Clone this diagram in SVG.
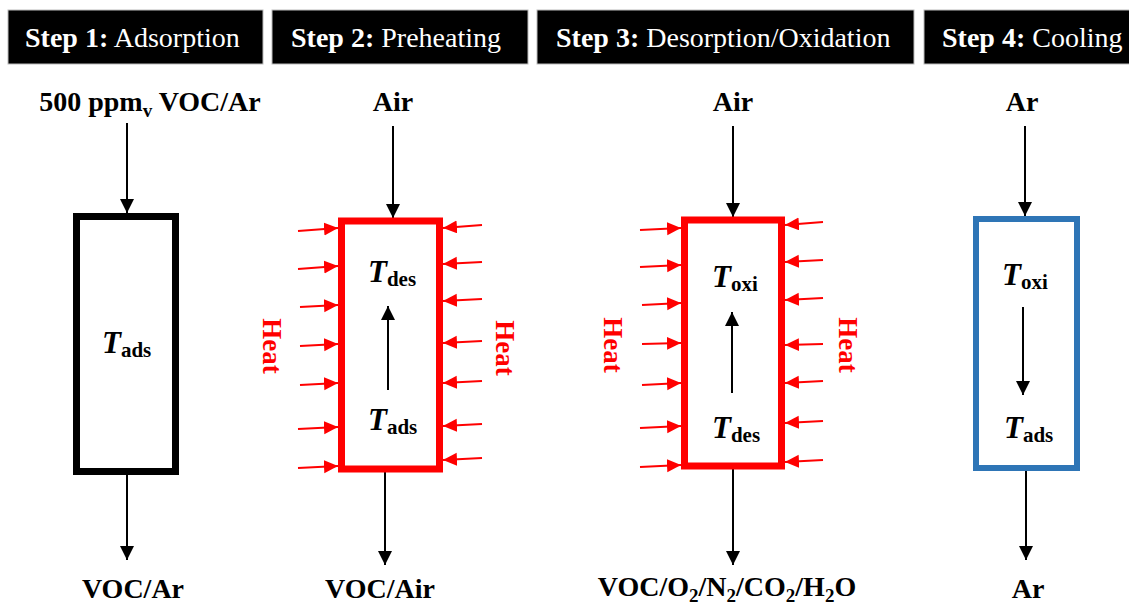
<svg xmlns="http://www.w3.org/2000/svg" width="1129" height="606" viewBox="0 0 1129 606">
<style>
.hdr{fill:#000;stroke:#bbb;stroke-width:1}
.ht{font-family:"Liberation Serif",serif;font-size:28px;fill:#fff}
.b{font-weight:bold}
.lbl{font-family:"Liberation Serif",serif;font-size:28px;font-weight:bold;fill:#000;text-anchor:middle}
.sub{font-size:19px}
.tv{font-family:"Liberation Serif",serif;font-size:31px;font-weight:bold;font-style:italic;fill:#000}
.ts{font-size:21px;font-style:normal}
.heat{font-family:"Liberation Serif",serif;font-size:27px;font-weight:bold;fill:#ff0000;text-anchor:middle}
.blk{stroke:#000;stroke-width:2;fill:none}
.red{stroke:#ff0000;stroke-width:2;fill:none}
</style>
<defs>
<marker id="ah" markerUnits="userSpaceOnUse" markerWidth="15" markerHeight="15" refX="14" refY="7" orient="auto"><path d="M0,0 L14,7 L0,14 z" fill="#000"/></marker>
<marker id="rh" markerUnits="userSpaceOnUse" markerWidth="15" markerHeight="15" refX="14" refY="6.5" orient="auto"><path d="M0,0 L14,6.5 L0,13 z" fill="#ff0000"/></marker>
</defs>
<rect width="1129" height="606" fill="#fff"/>
<g id="headers">
<rect class="hdr" x="8" y="10" width="255" height="54"/>
<rect class="hdr" x="272" y="10" width="256" height="54"/>
<rect class="hdr" x="537" y="10" width="377" height="54"/>
<rect class="hdr" x="924" y="10" width="210" height="54"/>
<text class="ht" x="25" y="47"><tspan class="b">Step 1:</tspan> Adsorption</text>
<text class="ht" x="291" y="47"><tspan class="b">Step 2:</tspan> Preheating</text>
<text class="ht" x="556" y="47"><tspan class="b">Step 3:</tspan> Desorption/Oxidation</text>
<text class="ht" x="942" y="47"><tspan class="b">Step 4:</tspan> Cooling</text>
</g>
<g id="connectors">
<line class="blk" x1="127" y1="123" x2="127" y2="213" marker-end="url(#ah)"/>
<line class="blk" x1="127" y1="475" x2="127" y2="560" marker-end="url(#ah)"/>
<line class="blk" x1="393" y1="126" x2="393" y2="218" marker-end="url(#ah)"/>
<line class="blk" x1="385" y1="472" x2="385" y2="565" marker-end="url(#ah)"/>
<line class="blk" x1="733" y1="126" x2="733" y2="217" marker-end="url(#ah)"/>
<line class="blk" x1="733" y1="469" x2="733" y2="565" marker-end="url(#ah)"/>
<line class="blk" x1="1025" y1="126" x2="1025" y2="216" marker-end="url(#ah)"/>
<line class="blk" x1="1026" y1="471" x2="1026" y2="560" marker-end="url(#ah)"/>
<line class="blk" x1="388" y1="390" x2="388" y2="306" marker-end="url(#ah)"/>
<line class="blk" x1="732" y1="393" x2="732" y2="312" marker-end="url(#ah)"/>
<line class="blk" x1="1023" y1="307" x2="1023" y2="395" marker-end="url(#ah)"/>
<g id="heat-arrows-2">
<line class="red" x1="298" y1="231" x2="338" y2="228" marker-end="url(#rh)"/>
<line class="red" x1="298" y1="269" x2="338" y2="266" marker-end="url(#rh)"/>
<line class="red" x1="300" y1="307" x2="338" y2="305" marker-end="url(#rh)"/>
<line class="red" x1="300" y1="346" x2="338" y2="344" marker-end="url(#rh)"/>
<line class="red" x1="300" y1="385" x2="338" y2="383" marker-end="url(#rh)"/>
<line class="red" x1="298" y1="429" x2="338" y2="427" marker-end="url(#rh)"/>
<line class="red" x1="298" y1="468" x2="338" y2="466" marker-end="url(#rh)"/>
<line class="red" x1="482" y1="225" x2="443" y2="228" marker-end="url(#rh)"/>
<line class="red" x1="482" y1="262" x2="443" y2="264" marker-end="url(#rh)"/>
<line class="red" x1="482" y1="299" x2="443" y2="301" marker-end="url(#rh)"/>
<line class="red" x1="482" y1="341" x2="443" y2="343" marker-end="url(#rh)"/>
<line class="red" x1="482" y1="381" x2="443" y2="383" marker-end="url(#rh)"/>
<line class="red" x1="482" y1="424" x2="443" y2="426" marker-end="url(#rh)"/>
<line class="red" x1="482" y1="458" x2="443" y2="460" marker-end="url(#rh)"/>
</g>
<g id="heat-arrows-3">
<line class="red" x1="640" y1="230" x2="681" y2="228" marker-end="url(#rh)"/>
<line class="red" x1="640" y1="267" x2="681" y2="265" marker-end="url(#rh)"/>
<line class="red" x1="642" y1="305" x2="681" y2="303" marker-end="url(#rh)"/>
<line class="red" x1="642" y1="344" x2="681" y2="343" marker-end="url(#rh)"/>
<line class="red" x1="642" y1="385" x2="681" y2="383" marker-end="url(#rh)"/>
<line class="red" x1="640" y1="428" x2="681" y2="426" marker-end="url(#rh)"/>
<line class="red" x1="640" y1="467" x2="681" y2="465" marker-end="url(#rh)"/>
<line class="red" x1="823" y1="222" x2="785" y2="225" marker-end="url(#rh)"/>
<line class="red" x1="823" y1="260" x2="785" y2="262" marker-end="url(#rh)"/>
<line class="red" x1="823" y1="298" x2="785" y2="300" marker-end="url(#rh)"/>
<line class="red" x1="823" y1="344" x2="785" y2="345" marker-end="url(#rh)"/>
<line class="red" x1="823" y1="381" x2="785" y2="383" marker-end="url(#rh)"/>
<line class="red" x1="823" y1="421" x2="785" y2="423" marker-end="url(#rh)"/>
<line class="red" x1="823" y1="460" x2="785" y2="462" marker-end="url(#rh)"/>
</g>
</g>
<g id="node-step1">
<text class="lbl" x="150" y="111">500 ppm<tspan class="sub" dy="6">v</tspan><tspan dy="-6"> VOC/Ar</tspan></text>
<rect x="76.5" y="216.5" width="99" height="255" fill="#fff" stroke="#000" stroke-width="7"/>
<text class="tv" x="102" y="353">T<tspan class="ts" dy="4">ads</tspan></text>
<text class="lbl" x="133" y="598">VOC/Ar</text>
</g>
<g id="node-step2">
<text class="lbl" x="393" y="111">Air</text>
<rect x="341.5" y="221" width="98" height="248" fill="none" stroke="#ff0000" stroke-width="7"/>
<text class="tv" x="368" y="282">T<tspan class="ts" dy="4">des</tspan></text>
<text class="tv" x="368" y="430">T<tspan class="ts" dy="4">ads</tspan></text>
<text class="heat" transform="translate(272,346) rotate(90)" x="0" y="9">Heat</text>
<text class="heat" transform="translate(505,348) rotate(90)" x="0" y="9">Heat</text>
<text class="lbl" x="380" y="598">VOC/Air</text>
</g>
<g id="node-step3">
<text class="lbl" x="733" y="111">Air</text>
<rect x="684.5" y="220" width="97" height="246" fill="none" stroke="#ff0000" stroke-width="7"/>
<text class="tv" x="712" y="287">T<tspan class="ts" dy="4">oxi</tspan></text>
<text class="tv" x="712" y="438">T<tspan class="ts" dy="4">des</tspan></text>
<text class="heat" transform="translate(613,345) rotate(90)" x="0" y="9">Heat</text>
<text class="heat" transform="translate(848,345) rotate(90)" x="0" y="9">Heat</text>
<text class="lbl" x="727" y="596">VOC/O<tspan class="sub" dy="6">2</tspan><tspan dy="-6">/N</tspan><tspan class="sub" dy="6">2</tspan><tspan dy="-6">/CO</tspan><tspan class="sub" dy="6">2</tspan><tspan dy="-6">/H</tspan><tspan class="sub" dy="6">2</tspan><tspan dy="-6">O</tspan></text>
</g>
<g id="node-step4">
<text class="lbl" x="1022" y="111">Ar</text>
<rect x="976" y="219" width="101" height="249" fill="none" stroke="#2e75b6" stroke-width="6"/>
<text class="tv" x="1002" y="285">T<tspan class="ts" dy="4">oxi</tspan></text>
<text class="tv" x="1004" y="438">T<tspan class="ts" dy="4">ads</tspan></text>
<text class="lbl" x="1028" y="598">Ar</text>
</g>
</svg>
